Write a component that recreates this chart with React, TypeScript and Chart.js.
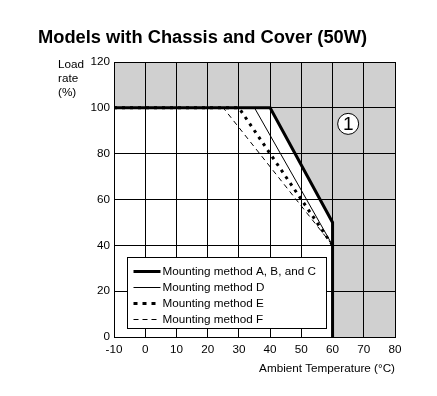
import React, { useEffect, useRef } from "react";
import { Chart, registerables } from "chart.js";

Chart.register(...registerables);

const chartTitle = "Models with Chassis and Cover (50W)";
const yAxisLabel = ["Load", "rate", "(%)"];
const xAxisLabel = "Ambient Temperature (°C)";

const xMin = -10;
const xMax = 80;
const xStep = 10;
const yMin = 0;
const yMax = 120;
const yStep = 20;

const seriesLabels = [
  "Mounting method A, B, and C",
  "Mounting method D",
  "Mounting method E",
  "Mounting method F",
];

const tempABC = [-10, 40, 60, 60];
const loadABC = [100, 100, 50, 0];
const tempD = [-10, 35, 60];
const loadD = [100, 100, 40];
const tempE = [-10, 30, 60];
const loadE = [100, 100, 40];
const tempF = [-10, 25, 60];
const loadF = [100, 100, 40];

const tempRegion = [-10, 40, 60, 60, 80];
const loadRegion = [100, 100, 50, 0, 0];

const regionMarkTemp = [65];
const regionMarkLoad = [93];
const regionMarkText = ["1"];

const FONT = 'Arial, "Liberation Sans", sans-serif';
const TXT = 11.7;

const zip = (xs: number[], ys: number[]) => xs.map((x, i) => ({ x, y: ys[i] }));

const decorPlugin = {
  id: "decor",
  afterDatasetsDraw(chart: any) {
    const ctx = chart.ctx;
    const idx = chart.data.datasets.findIndex((d: any) => d.isMark);
    if (idx < 0) return;
    const meta = chart.getDatasetMeta(idx);
    ctx.save();
    ctx.fillStyle = "#000";
    ctx.font = `19px ${FONT}`;
    ctx.textAlign = "center";
    ctx.textBaseline = "middle";
    meta.data.forEach((pt: any, i: number) => {
      ctx.fillText(regionMarkText[i], pt.x, pt.y + 1);
    });
    ctx.restore();
  },
  afterDraw(chart: any) {
    const ctx = chart.ctx;
    const { left, bottom } = chart.chartArea;
    ctx.save();
    ctx.fillStyle = "#000";
    ctx.textAlign = "left";
    ctx.textBaseline = "alphabetic";
    ctx.font = `bold 18.3px ${FONT}`;
    ctx.fillText(chartTitle, 38, 43);

    ctx.font = `${TXT}px ${FONT}`;
    yAxisLabel.forEach((t, i) => ctx.fillText(t, 58, 68 + i * 14));

    // legend box
    const bx = left + 13.5;
    const by = bottom - 79.5;
    const bw = 199;
    const bh = 71;
    ctx.fillStyle = "#fff";
    ctx.fillRect(bx, by, bw, bh);
    ctx.strokeStyle = "#000";
    ctx.lineWidth = 1;
    ctx.strokeRect(bx, by, bw, bh);

    const items = chart.data.datasets.filter((d: any) => d.inLegend);
    ctx.font = `${TXT}px ${FONT}`;
    ctx.textBaseline = "middle";
    items.forEach((d: any, i: number) => {
      const y = Math.round(by + 13 + i * 16) + 0.5;
      ctx.save();
      ctx.strokeStyle = d.borderColor;
      ctx.lineWidth = d.borderWidth;
      ctx.setLineDash(d.legendDash || d.borderDash || []);
      ctx.lineCap = "butt";
      ctx.beginPath();
      ctx.moveTo(bx + 6, y);
      ctx.lineTo(bx + 33, y);
      ctx.stroke();
      ctx.restore();
      ctx.fillStyle = "#000";
      ctx.fillText(d.label, bx + 35, y);
    });
    ctx.restore();
  },
};

export default function App() {
  const ref = useRef<HTMLCanvasElement | null>(null);
  useEffect(() => {
    if (!ref.current) return;
    const chart = new Chart(ref.current, {
      type: "scatter",
      data: {
        datasets: [
          {
            label: seriesLabels[0],
            data: zip(tempABC, loadABC),
            showLine: true,
            borderColor: "#000",
            borderWidth: 3,
            pointRadius: 0,
            fill: false,
            inLegend: true,
            order: 1,
          } as any,
          {
            label: seriesLabels[1],
            data: zip(tempD, loadD),
            showLine: true,
            borderColor: "#000",
            borderWidth: 1,
            pointRadius: 0,
            fill: false,
            inLegend: true,
            order: 2,
          } as any,
          {
            label: seriesLabels[2],
            data: zip(tempE, loadE),
            showLine: true,
            borderColor: "#000",
            borderWidth: 3,
            borderDash: [3, 5],
            legendDash: [4, 5],
            pointRadius: 0,
            fill: false,
            inLegend: true,
            order: 3,
          } as any,
          {
            label: seriesLabels[3],
            data: zip(tempF, loadF),
            showLine: true,
            borderColor: "#000",
            borderWidth: 1,
            borderDash: [5, 4],
            pointRadius: 0,
            fill: false,
            inLegend: true,
            order: 4,
          } as any,
          {
            label: "region",
            data: zip(tempRegion, loadRegion),
            showLine: true,
            borderWidth: 0,
            borderColor: "rgba(0,0,0,0)",
            backgroundColor: "#d0d0d0",
            pointRadius: 0,
            fill: "end",
            order: 10,
          } as any,
          {
            label: "mark",
            data: zip(regionMarkTemp, regionMarkLoad),
            showLine: false,
            pointRadius: 10.5,
            pointBackgroundColor: "#fff",
            pointBorderColor: "#000",
            pointBorderWidth: 1,
            isMark: true,
            order: 0,
          } as any,
        ],
      },
      options: {
        animation: false,
        responsive: false,
        devicePixelRatio: 1,
        layout: { padding: { left: 0, top: 62, right: 42, bottom: 0 } },
        plugins: {
          legend: { display: false },
          tooltip: { enabled: false },
          title: { display: false },
        },
        scales: {
          x: {
            type: "linear",
            min: xMin,
            max: xMax,
            afterFit: (s: any) => {
              s.height = 59;
            },
            ticks: {
              stepSize: xStep,
              color: "#000",
              font: { family: FONT, size: TXT },
              padding: 6,
              maxRotation: 0,
            },
            grid: { color: "#000", lineWidth: 1, drawTicks: false, z: 1 },
            border: { color: "#000", width: 1, z: 1 },
            title: {
              display: true,
              text: xAxisLabel,
              align: "end",
              color: "#000",
              font: { family: FONT, size: TXT },
              padding: { top: 0, bottom: 20 },
            },
          },
          y: {
            type: "linear",
            min: yMin,
            max: yMax,
            afterFit: (s: any) => {
              s.width = 114;
            },
            ticks: {
              stepSize: yStep,
              color: "#000",
              font: { family: FONT, size: TXT },
              padding: 4,
            },
            grid: { color: "#000", lineWidth: 1, drawTicks: false, z: 1 },
            border: { color: "#000", width: 1, z: 1 },
          },
        },
      } as any,
      plugins: [decorPlugin],
    });
    return () => chart.destroy();
  }, []);
  return (
    <div style={{ position: "fixed", left: 0, top: 0, width: 437, height: 396, background: "#fff" }}>
      <canvas ref={ref} width={437} height={396} style={{ display: "block" }} />
    </div>
  );
}
